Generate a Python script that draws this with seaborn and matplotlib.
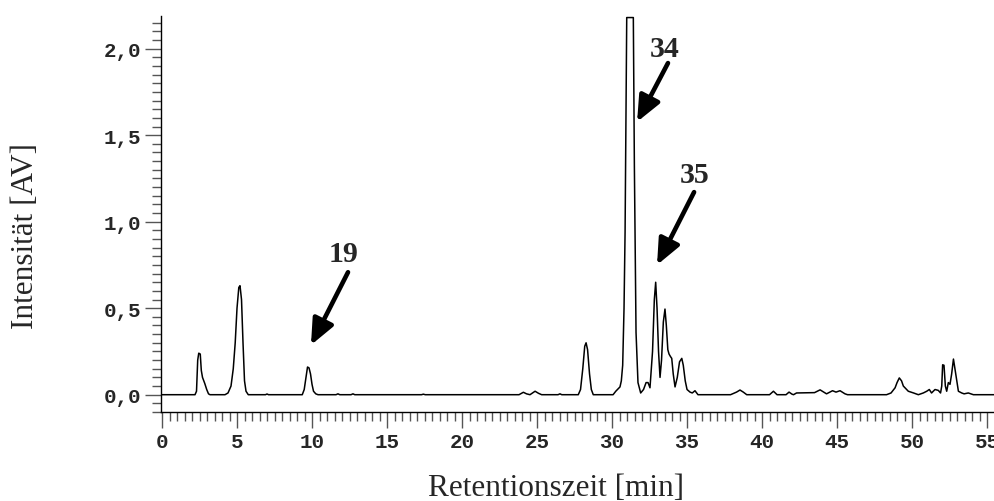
import matplotlib
matplotlib.use("Agg")
import matplotlib.pyplot as plt
import seaborn as sns
import pandas as pd
from matplotlib.ticker import MultipleLocator, FixedLocator

# ---- data (time [min], intensity [AV]) ----
time_min = [
    0.0, 2.2, 2.3, 2.38, 2.45, 2.55, 2.62, 2.7, 2.85, 2.98, 3.1, 3.2,
    4.2, 4.4, 4.6, 4.75, 4.88, 5.0, 5.12, 5.2, 5.3, 5.4, 5.5, 5.6, 5.75,
    6.9, 7.0, 7.1,
    9.35, 9.48, 9.6, 9.7, 9.8, 9.9, 10.0, 10.1, 10.25, 10.4,
    11.6, 11.73, 11.85, 12.6, 12.73, 12.85,
    17.3, 17.42, 17.55,
    23.8, 24.09, 24.3, 24.53, 24.87, 25.1, 25.31,
    26.4, 26.53, 26.65,
    27.75, 27.9, 28.05, 28.18, 28.27, 28.37, 28.5, 28.62, 28.75,
    30.07, 30.25, 30.4, 30.53, 30.62, 30.71, 30.8, 30.87, 30.93, 30.98,
    31.42, 31.49, 31.55, 31.6, 31.73, 31.91,
    32.1, 32.27, 32.4, 32.53, 32.7, 32.82, 32.91, 33.0, 33.1, 33.2,
    33.3, 33.42, 33.53, 33.62, 33.72, 33.8, 33.9, 33.98, 34.08, 34.2,
    34.35, 34.5, 34.65, 34.75, 34.88, 35.0, 35.2, 35.35, 35.53, 35.73,
    37.9, 38.3, 38.53, 38.75, 38.98,
    40.5, 40.76, 41.0, 41.6, 41.8, 42.0, 42.1, 42.3, 43.5, 43.87, 44.3,
    44.7, 44.93, 45.2, 45.53, 45.7,
    48.3, 48.6, 48.87, 49.0, 49.15, 49.3, 49.42, 49.75, 50.1, 50.42,
    50.75, 50.98, 51.15, 51.3, 51.53, 51.75, 51.9, 51.98, 52.04, 52.13,
    52.22, 52.31, 52.42, 52.53, 52.64, 52.76, 52.91, 53.09, 53.31, 53.47,
    53.75, 54.09, 55.5,
]
intensity_av = [
    0.0, 0.0, 0.02, 0.2, 0.24, 0.235, 0.14, 0.1, 0.065, 0.03, 0.005, 0.0,
    0.0, 0.01, 0.05, 0.15, 0.3, 0.5, 0.62, 0.63, 0.55, 0.3, 0.08, 0.02, 0.0,
    0.0, 0.004, 0.0,
    0.0, 0.03, 0.1, 0.16, 0.155, 0.12, 0.06, 0.02, 0.005, 0.0,
    0.0, 0.005, 0.0, 0.0, 0.005, 0.0,
    0.0, 0.003, 0.0,
    0.0, 0.014, 0.005, 0.0, 0.02, 0.008, 0.0,
    0.0, 0.005, 0.0,
    0.0, 0.03, 0.15, 0.28, 0.30, 0.26, 0.12, 0.03, 0.0,
    0.0, 0.02, 0.033, 0.045, 0.08, 0.17, 0.5, 0.94, 1.6, 2.18,
    2.18, 1.32, 0.8, 0.36, 0.07, 0.01,
    0.03, 0.07, 0.07, 0.04, 0.25, 0.55, 0.65, 0.5, 0.25, 0.10,
    0.2, 0.42, 0.495, 0.4, 0.26, 0.235, 0.22, 0.21, 0.12, 0.045,
    0.1, 0.19, 0.21, 0.17, 0.08, 0.03, 0.015, 0.01, 0.023, 0.0,
    0.0, 0.015, 0.027, 0.015, 0.0,
    0.0, 0.02, 0.0, 0.0, 0.015, 0.003, 0.0, 0.01, 0.012, 0.028, 0.005,
    0.023, 0.015, 0.023, 0.005, 0.0,
    0.0, 0.01, 0.04, 0.07, 0.097, 0.08, 0.05, 0.02, 0.01, 0.0,
    0.01, 0.02, 0.03, 0.01, 0.03, 0.025, 0.01, 0.05, 0.173, 0.17,
    0.05, 0.02, 0.07, 0.06, 0.12, 0.206, 0.12, 0.02, 0.01, 0.005,
    0.01, 0.0, 0.0,
]
y_major_ticks = [0.0, 0.5, 1.0, 1.5, 2.0]
y_tick_labels = ["0,0", "0,5", "1,0", "1,5", "2,0"]
x_major_ticks = [0, 5, 10, 15, 20, 25, 30, 35, 40, 45, 50, 55]
x_tick_labels = ["0", "5", "10", "15", "20", "25", "30", "35", "40", "45", "50", "55"]
peak_labels = ["19", "34", "35"]

df = pd.DataFrame({"t": time_min, "I": intensity_av})

sns.set_style("ticks")
plt.rcParams["font.family"] = ["Liberation Serif", "DejaVu Serif"]

fig = plt.figure(figsize=(9.95, 5.02), dpi=100)
ax = fig.add_axes([161 / 995, 89 / 502, 834 / 995, 396 / 502])

sns.lineplot(data=df, x="t", y="I", sort=False, estimator=None,
             color="black", linewidth=1.1, ax=ax)

ax.set_xlim(-0.067, 55.53)
ax.set_ylim(-0.1, 2.189)

ax.yaxis.set_major_locator(FixedLocator(y_major_ticks))
ax.set_yticklabels(y_tick_labels)
ax.yaxis.set_minor_locator(MultipleLocator(0.05))
ax.xaxis.set_major_locator(FixedLocator(x_major_ticks))
ax.set_xticklabels(x_tick_labels)
ax.xaxis.set_minor_locator(MultipleLocator(0.5))

for lab in ax.get_xticklabels() + ax.get_yticklabels():
    lab.set_family(["Liberation Mono", "DejaVu Sans Mono"])
    lab.set_fontweight("bold")
    lab.set_fontsize(15)

ax.tick_params(axis="both", which="major", length=11.5, width=1.0, color="#555555", pad=3)
ax.tick_params(axis="both", which="minor", length=6.5, width=1.0, color="#555555")

sns.despine(ax=ax, top=True, right=True)
for s in ("left", "bottom"):
    ax.spines[s].set_linewidth(1.0)
    ax.spines[s].set_color("black")

ax.set_xlabel("")
ax.set_ylabel("")
fig.text(556 / 995, 1 - 489 / 502, "Retentionszeit [min]", ha="center", va="center",
         fontsize=22.5, family=["Liberation Serif"])
fig.text(26 / 995, 1 - 236 / 502, "Intensität [AV]", ha="center", va="center",
         rotation=90, fontsize=22.5, family=["Liberation Serif"])

arrow_style = dict(arrowstyle="-|>,head_length=0.62,head_width=0.27",
                   mutation_scale=25, lw=3.3, color="black", shrinkA=0, shrinkB=0)
# (label, text pos, arrow tail, arrow tip)
annots = [
    (peak_labels[0], (12.07, 0.773), (12.4, 0.708), (9.93, 0.287)),
    (peak_labels[1], (33.53, 1.958), (33.73, 1.917), (31.67, 1.577)),
    (peak_labels[2], (35.5, 1.229), (35.47, 1.171), (33.0, 0.75)),
]
for lab, tpos, tail, tip in annots:
    ax.text(tpos[0], tpos[1], lab, ha="center", va="baseline", fontsize=21.5,
            fontweight="bold", family=["Liberation Serif"])
    ax.annotate("", xy=tip, xytext=tail, arrowprops=arrow_style)

fig.savefig("out.png", dpi=100)
